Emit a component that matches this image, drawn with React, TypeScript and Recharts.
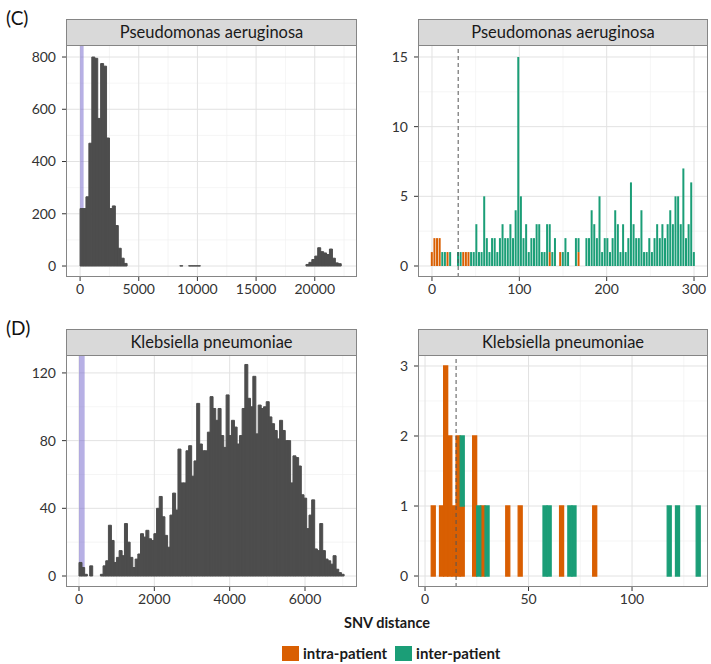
import { BarChart, Bar, XAxis, YAxis, CartesianGrid, ReferenceArea, ReferenceLine } from "recharts";
import type { ReactNode } from "react";

const FONT = "Lato, 'Open Sans', sans-serif";
const DARK = "#4d4d4d";
const ORANGE = "#d95f02";
const GREEN = "#1b9e77";
const PURPLE = "#7b6fd0";

// (C) Pseudomonas aeruginosa, all pairs, bins of 250 SNVs (start of each bin)
const paBinWidth = 250;
const paStarts = [
  0, 250, 500, 750, 1000, 1250, 1500, 1750, 2000, 2250, 2500, 2750, 3000, 3250, 3500, 3750,
  8500, 9250, 9500, 9750, 10000,
  19250, 19500, 19750, 20000, 20250, 20500, 20750, 21000, 21250, 21500, 21750, 22000,
];
const paCounts = [
  220, 220, 265, 470, 800, 795, 565, 775, 765, 490, 220, 230, 155, 68, 30, 10,
  1, 1, 1, 1, 1,
  6, 14, 25, 38, 70, 55, 50, 44, 65, 30, 12, 9,
];

// (C) zoom 0-300, bins of 3 SNVs (centres 0, 3, ... 300)
const paZoomBinWidth = 3;
const paIntra = [
  1, 2, 2, 2, 0, 0, 1, 0, 0, 0, 0, 0, 1, 1, 1, 0, 0, 0, 0, 0,
  0, 0, 0, 0, 0, 0, 0, 0, 0, 0, 0, 0, 0, 0, 0, 0, 0, 0, 0, 0,
  0, 0, 0, 0, 0, 1, 0, 0, 0, 1, 0, 0, 0, 0, 0, 0, 1, 0, 0, 0,
  0, 0, 0, 0, 0, 0, 0, 0, 0, 0, 0, 0, 0, 0, 0, 0, 0, 0, 0, 0,
  0, 0, 0, 0, 0, 0, 0, 0, 0, 0, 0, 0, 0, 0, 0, 0, 0, 0, 0, 0,
  0,
];
const paInter = [
  0, 0, 0, 0, 1, 1, 0, 1, 0, 0, 1, 1, 0, 0, 0, 1, 1, 3, 1, 1,
  5, 2, 1, 2, 2, 1, 2, 3, 2, 2, 3, 2, 4, 15, 5, 2, 3, 1, 2, 2,
  3, 3, 1, 1, 3, 2, 1, 2, 0, 0, 1, 2, 1, 0, 0, 2, 1, 0, 0, 2,
  2, 4, 3, 2, 5, 1, 2, 2, 1, 2, 4, 3, 1, 3, 1, 2, 6, 3, 2, 2,
  4, 1, 1, 2, 1, 2, 3, 2, 3, 2, 3, 4, 3, 5, 5, 3, 7, 2, 3, 6,
  1,
];

// (D) Klebsiella pneumoniae, all pairs, bins of 71 SNVs
const kpBinWidth = 71;
const kpCounts = [
  8, 5, 1, 0, 6, 0, 0, 0, 1, 6, 9, 30, 21, 8, 11, 15, 12, 31, 20, 11,
  5, 10, 13, 25, 23, 27, 22, 21, 25, 40, 47, 35, 24, 17, 36, 49, 39, 75, 55, 55,
  74, 77, 59, 68, 102, 78, 74, 74, 85, 106, 99, 92, 99, 83, 76, 107, 83, 92, 88, 78,
  83, 99, 125, 105, 100, 118, 84, 101, 99, 100, 103, 94, 90, 86, 81, 92, 86, 80, 80, 55,
  71, 70, 65, 48, 46, 28, 36, 45, 16, 15, 31, 15, 10, 9, 7, 12, 4, 2, 1,
];

// (D) zoom 0-135, bins of 2 SNVs (bin centres)
const kpZoomCenters = [4, 8, 10, 12, 14, 16, 18, 24, 26, 28, 30, 40, 46, 58, 60, 66, 70, 72, 82, 118, 122, 132];
const kpIntra = [1, 1, 3, 2, 1, 2, 1, 2, 0, 1, 0, 1, 1, 0, 0, 1, 0, 0, 1, 0, 0, 0];
const kpInter = [0, 0, 0, 0, 0, 0, 1, 0, 1, 0, 1, 0, 0, 1, 1, 0, 1, 1, 0, 1, 1, 1];

// axis ticks and grid values
const paXTicks = [0, 5000, 10000, 15000, 20000];
const paXMinor = [2500, 7500, 12500, 17500, 22500];
const paYTicks = [0, 200, 400, 600, 800];
const paYMinor = [100, 300, 500, 700];
const paZoomXTicks = [0, 100, 200, 300];
const paZoomXMinor = [50, 150, 250];
const paZoomYTicks = [0, 5, 10, 15];
const paZoomYMinor = [2.5, 7.5, 12.5];
const kpXTicks = [0, 2000, 4000, 6000];
const kpXMinor = [1000, 3000, 5000, 7000];
const kpYTicks = [0, 40, 80, 120];
const kpYMinor = [20, 60, 100];
const kpZoomXTicks = [0, 50, 100];
const kpZoomXMinor = [25, 75, 125];
const kpZoomYTicks = [0, 1, 2, 3];
const kpZoomYMinor = [0.5, 1.5, 2.5];

const paCutoff = 30;
const kpCutoff = 15;

const paData = paStarts.map((s, i) => ({ x: s + paBinWidth / 2, count: paCounts[i] }));
const paZoomData = paIntra.map((v, i) => ({ x: i * paZoomBinWidth, intra: v, inter: paInter[i] }));
const kpData = kpCounts.map((c, i) => ({ x: i * kpBinWidth + kpBinWidth / 2, count: c }));
const kpZoomData = kpZoomCenters.map((c, i) => ({ x: c, intra: kpIntra[i], inter: kpInter[i] }));

const Y_W = 50;
const X_H = 28;
const STRIP_H = 26;
const tickStyle = { fill: "#333", fontSize: 14, fontFamily: FONT };

type PanelProps = {
  x: number;
  y: number;
  w: number;
  h: number;
  title: string;
  data: object[];
  xDomain: [number, number];
  yDomain: [number, number];
  xTicks: number[];
  yTicks: number[];
  xMinor: number[];
  yMinor: number[];
  gap: number | string;
  children: ReactNode;
};

const Panel = ({ x, y, w, h, title, data, xDomain, yDomain, xTicks, yTicks, xMinor, yMinor, gap, children }: PanelProps) => (
  <>
    <div
      style={{
        position: "absolute",
        left: x,
        top: y - STRIP_H,
        width: w,
        height: STRIP_H,
        boxSizing: "border-box",
        background: "#d9d9d9",
        border: "1px solid #858585",
        borderBottom: "none",
        textAlign: "center",
        fontSize: 16.5,
        lineHeight: `${STRIP_H - 1}px`,
        color: "#1a1a1a",
      }}
    >
      {title}
    </div>
    <div style={{ position: "absolute", left: x - Y_W, top: y }}>
      <BarChart
        width={w + Y_W}
        height={h + X_H}
        data={data}
        margin={{ top: 0, right: 0, bottom: 0, left: 0 }}
        barCategoryGap={gap}
      >
        <CartesianGrid stroke="#f1f1f1" strokeWidth={0.7} horizontalValues={yMinor} verticalValues={xMinor} />
        <CartesianGrid stroke="#e2e2e2" strokeWidth={1} horizontalValues={yTicks} verticalValues={xTicks} />
        <XAxis
          type="number"
          dataKey="x"
          domain={xDomain}
          ticks={xTicks}
          allowDataOverflow
          interval={0}
          height={X_H}
          axisLine={false}
          tickSize={4}
          tickMargin={3}
          tickLine={{ stroke: "#333" }}
          tick={tickStyle}
        />
        <YAxis
          type="number"
          domain={yDomain}
          ticks={yTicks}
          allowDataOverflow
          interval={0}
          width={Y_W}
          axisLine={false}
          tickSize={4}
          tickMargin={6}
          tickLine={{ stroke: "#333" }}
          tick={tickStyle}
        />
        {children}
      </BarChart>
    </div>
    <div
      style={{
        position: "absolute",
        left: x,
        top: y,
        width: w,
        height: h,
        boxSizing: "border-box",
        border: "1px solid #858585",
        pointerEvents: "none",
      }}
    />
  </>
);

const LEFT_X = 66;
const RIGHT_X = 418;
const LEFT_W = 291;
const RIGHT_W = 290;
const TOP_C = 45;
const TOP_D = 355;
const PANEL_H = 232;

const App = () => {
  return (
    <div
      style={{
        position: "absolute",
        left: 0,
        top: 0,
        width: 711,
        height: 664,
        background: "#fff",
        fontFamily: FONT,
        overflow: "hidden",
      }}
    >
      <div style={{ position: "absolute", left: 6, top: 6, fontSize: 19, color: "#111" }}>(C)</div>
      <div style={{ position: "absolute", left: 6, top: 316, fontSize: 19, color: "#111" }}>(D)</div>

      <Panel
        x={LEFT_X}
        y={TOP_C}
        w={LEFT_W}
        h={PANEL_H}
        title="Pseudomonas aeruginosa"
        data={paData}
        xDomain={[-1200, 23600]}
        yDomain={[-42, 846]}
        xTicks={paXTicks}
        yTicks={paYTicks}
        xMinor={paXMinor}
        yMinor={paYMinor}
        gap={0}
      >
        <Bar dataKey="count" fill={DARK} stroke={DARK} strokeWidth={1} isAnimationActive={false} />
        <ReferenceArea x1={0} x2={300} y1={0} y2={846} fill={PURPLE} fillOpacity={0.55} stroke="none" />
      </Panel>

      <Panel
        x={RIGHT_X}
        y={TOP_C}
        w={RIGHT_W}
        h={PANEL_H}
        title="Pseudomonas aeruginosa"
        data={paZoomData}
        xDomain={[-16, 316]}
        yDomain={[-0.79, 15.86]}
        xTicks={paZoomXTicks}
        yTicks={paZoomYTicks}
        xMinor={paZoomXMinor}
        yMinor={paZoomYMinor}
        gap="5%"
      >
        <Bar dataKey="intra" stackId="a" fill={ORANGE} isAnimationActive={false} />
        <Bar dataKey="inter" stackId="a" fill={GREEN} isAnimationActive={false} />
        <ReferenceLine x={paCutoff} stroke="#555" strokeDasharray="4 3" strokeWidth={1} />
      </Panel>

      <Panel
        x={LEFT_X}
        y={TOP_D}
        w={LEFT_W}
        h={PANEL_H}
        title="Klebsiella pneumoniae"
        data={kpData}
        xDomain={[-345, 7380]}
        yDomain={[-6.5, 130.6]}
        xTicks={kpXTicks}
        yTicks={kpYTicks}
        xMinor={kpXMinor}
        yMinor={kpYMinor}
        gap={0}
      >
        <Bar dataKey="count" fill={DARK} stroke={DARK} strokeWidth={1} isAnimationActive={false} />
        <ReferenceArea x1={0} x2={150} y1={0} y2={130.6} fill={PURPLE} fillOpacity={0.55} stroke="none" />
      </Panel>

      <Panel
        x={RIGHT_X}
        y={TOP_D}
        w={RIGHT_W}
        h={PANEL_H}
        title="Klebsiella pneumoniae"
        data={kpZoomData}
        xDomain={[-3.4, 136.7]}
        yDomain={[-0.157, 3.157]}
        xTicks={kpZoomXTicks}
        yTicks={kpZoomYTicks}
        xMinor={kpZoomXMinor}
        yMinor={kpZoomYMinor}
        gap={0}
      >
        <Bar dataKey="intra" stackId="a" fill={ORANGE} stroke={ORANGE} strokeWidth={1.3} isAnimationActive={false} />
        <Bar dataKey="inter" stackId="a" fill={GREEN} stroke={GREEN} strokeWidth={1.3} isAnimationActive={false} />
        <ReferenceLine x={kpCutoff} stroke="#555" strokeDasharray="4 3" strokeWidth={1} />
      </Panel>

      <div
        style={{
          position: "absolute",
          left: 287,
          width: 200,
          top: 614,
          textAlign: "center",
          fontWeight: 700,
          fontSize: 14.5,
          color: "#1a1a1a",
        }}
      >
        SNV distance
      </div>

      <div
        style={{
          position: "absolute",
          left: 282,
          top: 644,
          display: "flex",
          alignItems: "center",
          fontWeight: 700,
          fontSize: 15,
          color: "#1a1a1a",
        }}
      >
        <span style={{ width: 17, height: 15, background: ORANGE, display: "inline-block", marginRight: 4 }} />
        <span style={{ marginRight: 8 }}>intra-patient</span>
        <span style={{ width: 17, height: 15, background: GREEN, display: "inline-block", marginRight: 4 }} />
        <span>inter-patient</span>
      </div>
    </div>
  );
};

export default App;
